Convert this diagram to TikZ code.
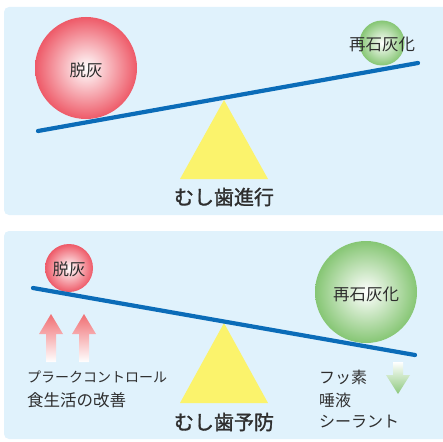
\documentclass[tikz,border=0pt]{standalone}
\usepackage{fontspec}
\setmainfont{Noto Sans CJK JP}
\newfontfamily\jpbold[FakeBold=1.5]{Noto Sans CJK JP}
\usetikzlibrary{shapes.geometric}
\definecolor{panelbg}{HTML}{E0F2FC}
\definecolor{beam}{HTML}{0B6CB8}
\definecolor{redball}{HTML}{EE5A68}
\definecolor{greenball}{HTML}{86C674}
\definecolor{tri}{HTML}{FBF36C}
\definecolor{txt}{HTML}{2E2E2E}
\definecolor{redarrow}{HTML}{F06E72}
\definecolor{greenarrow}{HTML}{8CC87C}
\tikzset{
  panel/.style={fill=panelbg, draw=none, rounded corners=5pt},
  beamline/.style={draw=beam, line width=4.2pt, line cap=round},
  redsphere/.style={inner color=white, outer color=redball, draw=none},
  greensphere/.style={inner color=white, outer color=greenball, draw=none},
  fulcrum/.style={fill=tri, draw=none},
  lbl/.style={text=txt, inner sep=0pt, font=\fontsize{16.5}{18}\selectfont},
  title/.style={text=txt, inner sep=0pt, font=\fontsize{20}{22}\selectfont\jpbold},
  side/.style={text=txt, inner sep=0pt, anchor=west},
  uparrow/.style={top color=redarrow, bottom color=white, draw=none},
  downarrow/.style={top color=white, bottom color=greenarrow, draw=none},
}
\begin{document}
\begin{tikzpicture}[x=1pt,y=-1pt]
\useasboundingbox (0,0) rectangle (443,441);
% panels
\fill[panel] (4,7) rectangle (450,215);
\fill[panel] (4,231) rectangle (450,439);
% ---- panel 1
\fill[fulcrum] (224,100) -- (268,179) -- (180,179) -- cycle;
\shade[redsphere] (86,68) circle (51);
\shade[greensphere] (382,43) circle (22.5);
\draw[beamline] (38,131) -- (418,63);
\node[lbl] (d1) at (86,70) {脱灰};
\node[lbl] (r1) at (382,44) {再石灰化};
\node[title] (t1) at (224,197) {むし歯進行};
% ---- panel 2
\fill[fulcrum] (224,323) -- (268,403) -- (180,403) -- cycle;
\shade[redsphere] (69,268) circle (24);
\shade[greensphere] (366,292) circle (51);
\draw[beamline] (33,288) -- (415,355);
\node[lbl] (d2) at (69,269) {脱灰};
\node[lbl] (r2) at (366,294) {再石灰化};
\node[title] (t2) at (224,422) {むし歯予防};
% up arrows
\shade[uparrow] (51,314) -- (63,334) -- (56,334) -- (56,362) -- (46,362) -- (46,334) -- (39,334) -- cycle;
\shade[uparrow] (84,314) -- (96,334) -- (89,334) -- (89,362) -- (79,362) -- (79,334) -- (72,334) -- cycle;
% down arrow
\shade[downarrow] (393,362) -- (403,362) -- (403,375) -- (410,375) -- (398,394) -- (386,375) -- (393,375) -- cycle;
% side texts
\node[side, font=\fontsize{14}{16}\selectfont] (pc) at (27,377) {プラークコントロール};
\node[side, font=\fontsize{16.5}{18}\selectfont] (sk) at (27,400) {食生活の改善};
\node[side, font=\fontsize{16}{18}\selectfont] (fs) at (319,377) {フッ素};
\node[side, font=\fontsize{16}{18}\selectfont] (de) at (319,400) {唾液};
\node[side, font=\fontsize{16}{18}\selectfont] (sl) at (319,422) {シーラント};
\end{tikzpicture}
\end{document}
